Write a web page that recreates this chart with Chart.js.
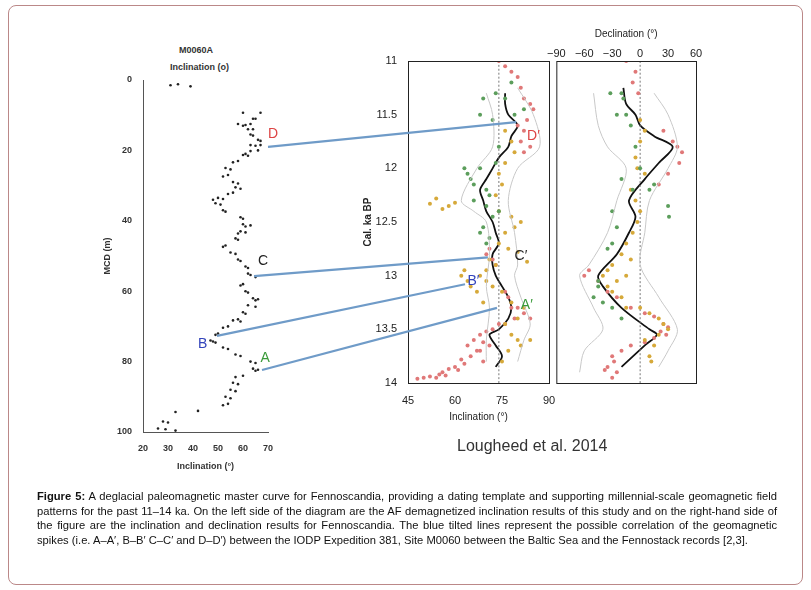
<!DOCTYPE html>
<html>
<head>
<meta charset="utf-8">
<script src="https://cdn.jsdelivr.net/npm/chart.js@4"></script>
<style>
  body { margin: 0; background: #fff; font-family: "Liberation Sans", Arial, sans-serif; }
  #card { position: absolute; left: 8px; top: 5px; width: 793px; height: 578px; border: 1px solid #b88; border-radius: 8px; }
  canvas { position: absolute; }
  .lbl { position: absolute; font-size: 9px; font-weight: bold; color: #333; }
  #cite { position: absolute; left: 457px; top: 437px; font-size: 16px; color: #333; }
  #caption { position: absolute; left: 37px; top: 489px; width: 740px; font-size: 11.2px; line-height: 14.5px; text-align: justify; color: #111; }
</style>
</head>
<body>
<div id="card"></div>
<div class="lbl" style="left:179px;top:45px">M0060A</div>
<div class="lbl" style="left:170px;top:62px">Inclination (o)</div>
<canvas id="left" width="190" height="432" style="left:100px;top:40px"></canvas>
<canvas id="mid" width="199" height="372" style="left:360px;top:51px"></canvas>
<canvas id="right" width="164" height="372" style="left:547px;top:16px"></canvas>
<canvas id="overlay" width="811" height="590" style="left:0;top:0;pointer-events:none"></canvas>
<div id="cite">Lougheed et al. 2014</div>
<div id="caption"><b>Figure 5:</b> A deglacial paleomagnetic master curve for Fennoscandia, providing a dating template and supporting millennial-scale geomagnetic field patterns for the past 11–14 ka. On the left side of the diagram are the AF demagnetized inclination results of this study and on the right-hand side of the figure are the inclination and declination results for Fennoscandia. The blue tilted lines represent the possible correlation of the geomagnetic spikes (i.e. A–A′, B–B′ C–C′ and D–D′) between the IODP Expedition 381, Site M0060 between the Baltic Sea and the Fennostack records [2,3].</div>
<script>
// M0060A inclination [inc, depth m]
const m0060 = [[31,1.5],[34,1.2],[39,1.8],[60,9.3],[67,9.3],[65,11],[64,11],[63,12.5],[58,12.5],[61,12.8],[60,13],[62,14],[64,14],
  [63,15.5],[64,15.8],[66,17],[67,17.3],[63,18.5],[65,18.7],[67,18.5],[66,20],[63,20.2],[61,21],[60,21.3],[62,21.5],[58,23],[56,23.4],
  [53,25],[55,25.4],[54,27],[52,27.4],[56,29],[58,29.4],[57,30.5],[59,30.9],[56,32],[54,32.4],[50,33.5],[52,33.8],[48,34],[49,35],[51,35.4],
  [52,37],[53,37.4],[59,39],[60,39.4],[60,41],[63,41.3],[61,41.6],[59,43],[61,43.3],[58,43.6],[57,45],[58,45.4],[53,47],[52,47.4],
  [55,49],[57,49.4],[58,51],[59,51.4],[61,53],[62,53.4],[62,55],[63,55.4],[65,56],[60,58],[59,58.4],[61,60],[62,60.4],[64,62],[66,62.3],
  [65,62.6],[62,64],[65,64.4],[60,66],[61,66.4],[58,68],[56,68.3],[59,68.6],[54,70],[52,70.4],[50,72],[49,72.4],[47,74],[48,74.3],[49,74.6],
  [52,76],[54,76.4],[57,78],[59,78.4],[63,80],[65,80.4],[64,82],[66,82.3],[65,82.6],[60,84],[57,84.4],[56,86],[58,86.4],[55,88],[57,88.4],
  [53,90],[55,90.4],[54,92],[52,92.4],[42,94],[33,94.3],[28,97],[30,97.3],[26,99],[29,99.2],[33,99.6]];

// Fennostack inclination [inc, age ka]
const incGreen = [[69,11.35],[73,11.3],[76,11.35],[68,11.5],[72,11.55],[79,11.5],[74,11.8],[73,11.95],[63,12.0],[64,12.05],[65,12.1],[66,12.15],
  [68,12.0],[70,12.2],[71,12.25],[66,12.3],[69,12.55],[68,12.6],[71,12.65],[70,12.7],[72,12.45],[74,12.4],[78,11.2],[82,11.45],[70,12.35]];
const incYellow = [[52,12.33],[54,12.28],[56,12.38],[58,12.35],[60,12.32],[76,11.65],[78,11.75],[79,11.85],[76,11.95],[74,12.05],[75,12.15],
  [73,12.25],[74,12.4],[78,12.45],[81,12.5],[79,12.55],[76,12.6],[74,12.7],[77,12.75],[80,12.78],[83,12.87],[71,12.85],[73,12.9],[63,12.95],
  [62,13.0],[64,13.05],[65,13.1],[68,13.0],[70,13.05],[72,13.1],[67,13.15],[75,13.15],[78,13.25],[82,13.3],[80,13.4],[76,13.45],[78,13.55],
  [80,13.6],[84,13.6],[77,13.7],[75,13.8],[81,13.65],[69,13.25],[70,12.95]];
const incRed = [[74,11.0],[76,11.05],[78,11.1],[80,11.15],[81,11.25],[82,11.35],[84,11.4],[85,11.45],[83,11.55],[82,11.65],[81,11.75],[82,11.85],
  [80,11.6],[84,11.8],[71,12.75],[72,12.85],[70,12.8],[73,12.9],[76,13.15],[77,13.2],[78,13.3],[80,13.3],[82,13.35],[84,13.4],[79,13.4],
  [76,13.45],[74,13.45],[72,13.5],[70,13.52],[68,13.55],[66,13.6],[69,13.62],[64,13.65],[67,13.7],[65,13.75],[62,13.78],[63,13.82],[60,13.85],
  [58,13.87],[61,13.88],[56,13.9],[55,13.92],[52,13.94],[50,13.95],[48,13.96],[54,13.95],[57,13.93],[68,13.7],[71,13.65],[69,13.8]];
const incStack = [[76,11.3],[76,11.4],[77,11.5],[80,11.6],[78,11.7],[77,11.8],[74,11.9],[72,12.0],[70,12.1],[68,12.2],[69,12.3],[70,12.4],
  [72,12.5],[73,12.6],[74,12.7],[72,12.8],[72,12.9],[73,13.0],[75,13.1],[77,13.2],[78,13.3],[77,13.4],[74,13.5],[71,13.55],[73,13.65],[75,13.75],[73,13.85]];
const incLow = [[70,11.3],[72,11.5],[72,11.8],[67,12.0],[62,12.3],[66,12.4],[70,12.5],[71,12.8],[70,13.1],[71,13.3],[70,13.6],[70,13.8]];
const incHigh = [[80,11.25],[85,11.5],[87,11.8],[80,12.0],[77,12.3],[79,12.6],[80,12.9],[79,13.0],[81,13.2],[84,13.45],[82,13.6],[80,13.8]];

// Fennostack declination [dec, age ka]
const decGreen = [[-32,11.3],[-20,11.3],[-18,11.35],[-15,11.5],[-25,11.5],[-10,11.6],[-5,11.8],[0,12.0],[-20,12.1],[-8,12.2],[30,12.35],
  [31,12.45],[-30,12.4],[-25,12.55],[-30,12.7],[-35,12.75],[-45,13.1],[-50,13.2],[-40,13.25],[-30,13.3],[-20,13.4],[-45,13.05],[10,12.2],[15,12.15]];
const decYellow = [[0,11.55],[5,11.65],[0,11.75],[-5,11.9],[-3,12.0],[5,12.05],[-10,12.2],[-5,12.3],[0,12.4],[-3,12.5],[-8,12.6],[-15,12.7],
  [-20,12.8],[-10,12.85],[-30,12.9],[-35,12.95],[-40,13.0],[-25,13.05],[-30,13.15],[-20,13.2],[-15,13.3],[0,13.3],[10,13.35],[20,13.4],
  [25,13.45],[30,13.5],[20,13.55],[15,13.65],[10,13.75],[12,13.8],[-15,13.0],[-35,13.1],[5,13.6]];
const decRed = [[-15,11.0],[-5,11.1],[-8,11.2],[-2,11.3],[25,11.65],[35,11.75],[40,11.8],[45,11.85],[42,11.95],[30,12.05],[20,12.15],
  [-60,13.0],[-55,12.95],[-45,13.05],[-35,13.15],[-25,13.2],[-10,13.3],[5,13.35],[15,13.38],[25,13.45],[30,13.48],[28,13.55],[22,13.52],
  [15,13.58],[5,13.62],[-10,13.65],[-20,13.7],[-30,13.75],[-28,13.8],[-35,13.85],[-25,13.9],[-30,13.95],[-38,13.88]];
const decStack = [[-18,11.25],[-15,11.4],[-5,11.5],[0,11.6],[15,11.7],[35,11.8],[20,11.95],[5,12.1],[-12,12.3],[-5,12.45],[-12,12.6],
  [-25,12.8],[-45,13.0],[-40,13.1],[-20,13.3],[10,13.5],[18,13.55],[5,13.65],[-20,13.85]];
const decLow = [[-50,11.3],[-45,11.6],[-35,11.8],[-15,12.0],[-25,12.3],[-35,12.6],[-55,12.9],[-65,13.0],[-50,13.3],[-40,13.5],[-60,13.7],[-65,13.9]];
const decHigh = [[15,11.3],[30,11.5],[40,11.8],[30,12.0],[10,12.3],[5,12.6],[0,12.9],[20,13.2],[40,13.5],[30,13.7],[20,13.85]];

// correlation ties: M0060 [inc, depth] -> stack [inc, age]
const ties = [
  { name: 'A', color: '#3a9a3a', from: [67.6, 82.4], to: [73.4, 13.30] },
  { name: 'B', color: '#3344bb', from: [49.6, 72.7], to: [63.2, 13.08] },
  { name: 'C', color: '#222222', from: [64.4, 55.7], to: [70.5, 12.83] },
  { name: 'D', color: '#dd4444', from: [70.0, 19.0], to: [79.5, 11.57] }
];
// letter label positions in data units
const leftLabels = [['D', 70, 15.5], ['C', 66, 51.5], ['B', 42, 75], ['A', 67, 79]];
const midLabels = [["D′", 83, 11.7], ["C′", 79, 12.82], ["B′", 64, 13.05], ["A′", 81, 13.27]];

const RED = '#e07878', YEL = '#d6a93a', GRN = '#5c9e5c';
const toXY = arr => arr.map(p => ({ x: p[0], y: p[1] }));
const font = { family: 'Liberation Sans', size: 10 };
const minus = v => String(v).replace('-', '\u2212');

const frame = {
  id: 'frame',
  afterDraw(chart) {
    const a = chart.chartArea, c = chart.ctx;
    c.save();
    c.strokeStyle = '#222';
    c.lineWidth = 1;
    c.strokeRect(a.left + 0.5, a.top + 0.5, a.right - a.left, a.bottom - a.top);
    c.restore();
  }
};

function dots(data, color, r) {
  return { type: 'scatter', data: toXY(data), backgroundColor: color, borderWidth: 0, pointRadius: r };
}
function line(data, color, w, dash) {
  return { type: 'line', data: toXY(data), borderColor: color, borderWidth: w, pointRadius: 0, fill: false,
    tension: 0.3, borderDash: dash || [] };
}

// left: M0060A
const leftChart = new Chart(document.getElementById('left'), {
  type: 'scatter',
  data: { datasets: [dots(m0060, '#222', 1.3)] },
  options: {
    responsive: false, animation: false,
    layout: { padding: { top: 40, right: 22 } },
    plugins: { legend: { display: false }, tooltip: { enabled: false } },
    scales: {
      x: { min: 20, max: 70, afterFit: s => { s.height = 40; },
        ticks: { stepSize: 10, font: { ...font, weight: 'bold', size: 9 }, color: '#333' },
        grid: { display: false }, border: { display: true, color: '#555' },
        title: { display: true, text: 'Inclination (°)', font: { ...font, weight: 'bold', size: 9 }, color: '#333', padding: 0 } },
      y: { reverse: true, min: 0, max: 100, afterFit: s => { s.width = 43; },
        ticks: { stepSize: 20, font: { ...font, weight: 'bold', size: 9 }, color: '#333' },
        grid: { display: false }, border: { display: true, color: '#555' },
        title: { display: true, text: 'MCD (m)', font: { ...font, weight: 'bold', size: 9 }, color: '#333', padding: 2 } }
    }
  }
});

// middle: stack inclination
const midChart = new Chart(document.getElementById('mid'), {
  type: 'scatter',
  data: { datasets: [
    line(incLow, '#c8c8c8', 1), line(incHigh, '#c8c8c8', 1),
    dots(incGreen, GRN, 2), dots(incYellow, YEL, 2), dots(incRed, RED, 2),
    line([[74, 11], [74, 14]], '#777', 1, [2, 2]),
    line(incStack, '#111', 1.8)
  ] },
  options: {
    responsive: false, animation: false,
    layout: { padding: { top: 10, right: 10 } },
    plugins: { legend: { display: false }, tooltip: { enabled: false } },
    scales: {
      x: { min: 45, max: 90, afterFit: s => { s.height = 40; },
        ticks: { stepSize: 15, font: { ...font, size: 11 }, color: '#222' },
        grid: { display: false }, border: { display: false },
        title: { display: true, text: 'Inclination (°)', font: { ...font, size: 10 }, color: '#222', padding: 0 } },
      y: { reverse: true, min: 11, max: 14, afterFit: s => { s.width = 48; },
        ticks: { stepSize: 0.5, font: { ...font, size: 11 }, color: '#222', callback: v => String(v) },
        grid: { display: false }, border: { display: false },
        title: { display: true, text: 'Cal. ka BP', font: { ...font, size: 10, weight: 'bold' }, color: '#222', padding: 2 } }
    }
  },
  plugins: [frame]
});

// right: stack declination
const rightChart = new Chart(document.getElementById('right'), {
  type: 'scatter',
  data: { datasets: [
    line(decLow, '#c8c8c8', 1), line(decHigh, '#c8c8c8', 1),
    dots(decGreen, GRN, 2), dots(decYellow, YEL, 2), dots(decRed, RED, 2),
    line([[0, 11], [0, 14]], '#777', 1, [2, 2]),
    line(decStack, '#111', 1.8)
  ] },
  options: {
    responsive: false, animation: false,
    layout: { padding: { right: 15, bottom: 5 } },
    plugins: { legend: { display: false }, tooltip: { enabled: false } },
    scales: {
      x: { position: 'top', min: -90, max: 60, afterFit: s => { s.height = 45; },
        ticks: { stepSize: 30, padding: 0, font: { ...font, size: 11 }, color: '#222', callback: v => minus(v) },
        grid: { display: false, tickLength: 0 }, border: { display: false },
        title: { display: true, text: 'Declination (°)', font: { ...font, size: 10 }, color: '#222', padding: { top: 12, bottom: 4 } } },
      y: { display: false, reverse: true, min: 11, max: 14 }
    }
  },
  plugins: [frame]
});

// tie lines and letters across the panels, placed via each chart's scales
function px(chart, canvasId, x, y) {
  const c = document.getElementById(canvasId);
  return [parseFloat(c.style.left) + chart.scales.x.getPixelForValue(x),
          parseFloat(c.style.top) + chart.scales.y.getPixelForValue(y)];
}
const ov = document.getElementById('overlay').getContext('2d');
ov.strokeStyle = '#6f9bc8';
ov.lineWidth = 2.2;
ties.forEach(t => {
  const a = px(leftChart, 'left', t.from[0], t.from[1]);
  const b = px(midChart, 'mid', t.to[0], t.to[1]);
  ov.beginPath();
  ov.moveTo(a[0], a[1]);
  ov.lineTo(b[0], b[1]);
  ov.stroke();
});
ov.font = '14px "Liberation Sans"';
ov.textBaseline = 'middle';
leftLabels.forEach(l => {
  const p = px(leftChart, 'left', l[1], l[2]);
  ov.fillStyle = ties.find(t => t.name === l[0]).color;
  ov.fillText(l[0], p[0], p[1]);
});
midLabels.forEach(l => {
  const p = px(midChart, 'mid', l[1], l[2]);
  ov.fillStyle = ties.find(t => t.name === l[0][0]).color;
  ov.fillText(l[0], p[0], p[1]);
});
</script>
</body>
</html>
